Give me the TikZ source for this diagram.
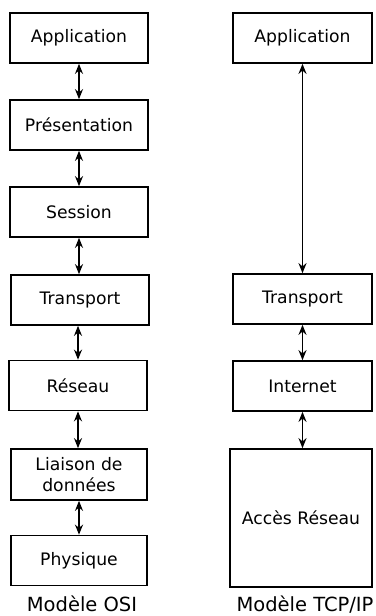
\documentclass[tikz,border=0pt]{standalone}
\usepackage{fontspec}
\setmainfont{DejaVu Sans}
\usetikzlibrary{arrows.meta}
\begin{document}
\begin{tikzpicture}[x=1pt,y=-1pt,
  layer/.style={draw,line width=1.7pt,rectangle,inner sep=0pt,minimum width=138pt,minimum height=50pt,font=\fontsize{17.2}{21}\selectfont,align=center},
  link/.style={line width=1.7pt,{Stealth[length=10pt,width=8pt]}-{Stealth[length=10pt,width=8pt]}},
  caption/.style={font=\fontsize{19.5}{23}\selectfont,anchor=base,inner sep=0pt}]
\useasboundingbox (0,0) rectangle (375,616);
% OSI
\node[layer] (app) at (79,38) {Application};
\node[layer] (pres) at (79,125) {Présentation};
\node[layer] (sess) at (79,212) {Session};
\node[layer] (trans) at (80,300) {Transport};
\node[layer] (res) at (78,385.5) {Réseau};
\node[layer,minimum width=136pt,minimum height=51pt] (liai) at (79,474.5) {Liaison de\\données};
\node[layer,minimum width=136pt] (phys) at (79,560.5) {Physique};
\node[caption] (osi) at (82,611.5) {Modèle OSI};
% TCP/IP
\node[layer,minimum width=139pt] (tapp) at (302.5,38) {Application};
\node[layer,minimum width=139pt] (ttrans) at (302.5,299) {Transport};
\node[layer,minimum width=139pt] (tint) at (302.5,386) {Internet};
\node[layer,minimum width=142pt,minimum height=138pt] (acc) at (301,518) {Accès Réseau};
\node[caption] (tcp) at (305,611.5) {Modèle TCP/IP};
% links
\draw[link] (app) -- (pres);
\draw[link] (pres) -- (sess);
\draw[link] (sess.south) -- (sess.south |- trans.north);
\draw[link] (trans.south -| res.center) -- (res.north);
\draw[link] (res) -- (res.center |- liai.north);
\draw[link] (liai) -- (phys);
\draw[link] (tapp) -- (ttrans);
\draw[link] (ttrans) -- (tint);
\draw[link] (tint) -- (tint.center |- acc.north);
\end{tikzpicture}
\end{document}
